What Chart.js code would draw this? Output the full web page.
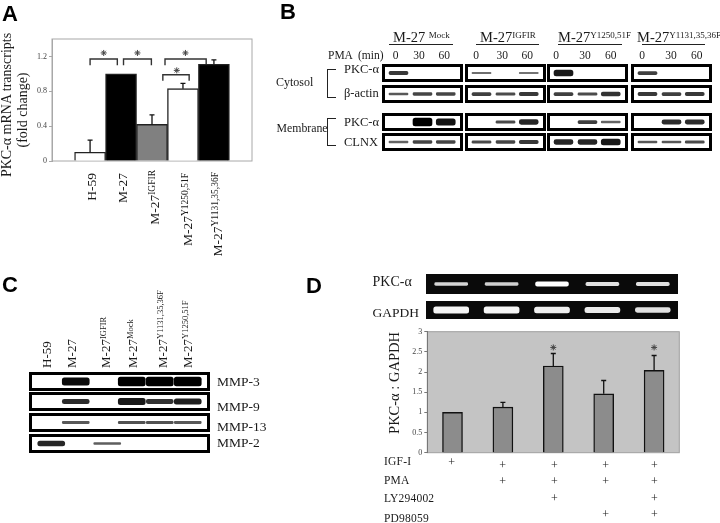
<!DOCTYPE html>
<html>
<head>
<meta charset="utf-8">
<script src="https://cdn.jsdelivr.net/npm/chart.js@4"></script>
<style>
  html, body { margin: 0; padding: 0; background: #fff; }
  #stage { position: relative; width: 720px; height: 523px; overflow: hidden; font-family: "Liberation Serif", serif; color: #1a1a1a; filter: blur(0.3px); }
  #stage canvas { position: absolute; }
  .txt { position: absolute; white-space: nowrap; line-height: 1; }
  .up { writing-mode: vertical-rl; }
  .panel { position: absolute; font: bold 22px "Liberation Sans", sans-serif; color: #000; line-height: 1; }
  .strip { position: absolute; box-sizing: border-box; border: 3px solid #000; background: #fff; }
  .strip canvas { left: 0; top: 0; filter: blur(0.5px); }
  .gel { position: absolute; background: #0a0a0a; }
  .gel canvas { left: 0; top: 0; filter: blur(0.7px); }
  .rule { position: absolute; background: #222; }
</style>
</head>
<body>
<div id="stage"></div>
<script>
// Panel A data
const aBase = ["H-59", "M-27", "M-27", "M-27", "M-27"];
const aSuper = ["", "", "IGFIR", "Y1250,51F", "Y1131,35,36F"];
const aValues = [0.10, 1.0, 0.42, 0.83, 1.11];
const aErrorTop = [0.24, null, 0.53, 0.89, 1.16];
const aTicks = [0, 0.4, 0.8, 1.2];
// [from bar, to bar, height, foot height] in axis units
const aBrackets = [
  [0.0, 0.88, 1.17, 1.10],
  [1.08, 1.98, 1.17, 1.10],
  [2.42, 3.75, 1.17, 1.10],
  [2.35, 3.20, 0.99, 0.92]
];
const aStars = [[0.44, 1.24], [1.53, 1.24], [3.08, 1.24], [2.80, 1.04]];

// Panel B data, band strength by row, then by cell line, then by lane
const bGroupsBase = ["M-27", "M-27", "M-27", "M-27"];
const bGroupsSuper = ["Mock", "IGFIR", "Y1250,51F", "Y1131,35,36F"];
const bTimes = ["0", "30", "60"];
const bRows = ["PKC-α", "β-actin", "PKC-α", "CLNX"];
const bCytosolPkc = [[0.55, 0, 0], [0.12, 0, 0.08], [0.8, 0, 0], [0.5, 0, 0]];
const bActin = [[0.3, 0.45, 0.45], [0.5, 0.4, 0.55], [0.5, 0.4, 0.6], [0.55, 0.5, 0.55]];
const bMembranePkc = [[0, 1, 0.85], [0, 0.4, 0.7], [0, 0.5, 0.2], [0, 0.65, 0.65]];
const bClnx = [[0.2, 0.45, 0.45], [0.4, 0.45, 0.55], [0.7, 0.7, 0.8], [0.3, 0.3, 0.4]];

// Panel C data
const cBase = ["H-59", "M-27", "M-27", "M-27", "M-27", "M-27"];
const cSuper = ["", "", "IGFIR", "Mock", "Y1131,35,36F", "Y1250,51F"];
const cRows = ["MMP-3", "MMP-9", "MMP-13", "MMP-2"];
const cMmp3 = [0, 0.9, 0, 1, 1, 1];
const cMmp9 = [0, 0.65, 0, 0.8, 0.6, 0.75];
const cMmp13 = [0, 0.3, 0, 0.35, 0.35, 0.3];
const cMmp2 = [0.7, 0, 0.25, 0, 0, 0];

// Panel D data
const dGelPkc = [0.6, 0.55, 1, 0.7, 0.7];
const dGelGapdh = [0.9, 0.9, 0.85, 0.8, 0.7];
const dValues = [1.0, 1.13, 2.15, 1.46, 2.04];
const dErrorTop = [null, 1.25, 2.46, 1.79, 2.41];
const dTicks = [0, 0.5, 1, 1.5, 2, 2.5, 3];
const dStars = [[2, 2.61], [4, 2.61]];
const dTreatments = ["IGF-I", "PMA", "LY294002", "PD98059"];
const dIgf = [1, 1, 1, 1, 1];
const dPma = [0, 1, 1, 1, 1];
const dLy = [0, 0, 1, 0, 1];
const dPd = [0, 0, 0, 1, 1];

// Layout and style
const stage = document.getElementById("stage");
const aColors = ["#ffffff", "#000000", "#808080", "#ffffff", "#000000"];
const bCols = [382, 465, 547, 631];
const bRowTops = [64, 85, 113, 133];
const bLaneX = [0.18, 0.5, 0.81];
const cLaneX = [0.11, 0.25, 0.43, 0.57, 0.73, 0.89];
const cRowTops = [372, 392, 413, 434];

function addDiv(cls, css) {
  const el = document.createElement("div");
  el.className = cls;
  Object.assign(el.style, css);
  stage.appendChild(el);
  return el;
}

function text(str, x, y, size, extra) {
  const el = addDiv("txt", { left: x + "px", top: y + "px", fontSize: size + "px", transform: "translateY(-50%)" });
  el.textContent = str;
  if (extra) Object.assign(el.style, extra);
  return el;
}

// base text plus a raised smaller part
function labelHtml(base, sup, supSize, rise) {
  if (!sup) return base;
  return base + '<span style="font-size:' + supSize + 'px;position:relative;' + rise + '">' + sup + "</span>";
}

function upText(html, x, y, size, anchor) {
  const shift = anchor === "top" ? "0" : anchor === "bottom" ? "-100%" : "-50%";
  const el = addDiv("txt up", {
    left: x + "px", top: y + "px", fontSize: size + "px",
    transform: "translate(-50%," + shift + ") rotate(180deg)"
  });
  el.innerHTML = html;
  return el;
}

function rule(x, y, w, h) {
  addDiv("rule", { left: x + "px", top: y + "px", width: w + "px", height: h + "px" });
}

// error whiskers, drawn from the chart's own scales
const errorBars = {
  id: "errorBars",
  afterDatasetsDraw(chart, args, opts) {
    const { ctx, scales } = chart;
    ctx.save();
    ctx.strokeStyle = "#111";
    ctx.lineWidth = 1.3;
    opts.top.forEach((hi, i) => {
      if (hi === null) return;
      const px = scales.x.getPixelForValue(i);
      const y0 = scales.y.getPixelForValue(opts.values[i]);
      const y1 = scales.y.getPixelForValue(hi);
      ctx.beginPath();
      ctx.moveTo(px, y0);
      ctx.lineTo(px, y1);
      ctx.moveTo(px - 2.5, y1);
      ctx.lineTo(px + 2.5, y1);
      ctx.stroke();
    });
    ctx.restore();
  }
};

const plotFrame = {
  id: "plotFrame",
  beforeDraw(chart, args, opts) {
    const { ctx, chartArea: a } = chart;
    ctx.save();
    if (opts.fill) {
      ctx.fillStyle = opts.fill;
      ctx.fillRect(a.left, a.top, a.width, a.height);
    }
    ctx.strokeStyle = opts.color;
    ctx.lineWidth = 1;
    ctx.strokeRect(a.left, a.top, a.width, a.height);
    ctx.restore();
  }
};

function newCanvas(parent, x, y, w, h) {
  const c = document.createElement("canvas");
  c.width = w;
  c.height = h;
  c.style.left = x + "px";
  c.style.top = y + "px";
  c.style.width = w + "px";
  c.style.height = h + "px";
  parent.appendChild(c);
  return c;
}

function yAxis(ticks, axisWidth, max, lineColor) {
  return {
    min: 0,
    max: max,
    afterBuildTicks: s => { s.ticks = ticks.map(v => ({ value: v })); },
    afterFit: s => { s.width = axisWidth; s.paddingTop = 0; s.paddingBottom = 0; },
    grid: { drawOnChartArea: false, tickLength: 3, tickColor: lineColor },
    border: { color: lineColor },
    ticks: {
      color: "#444", padding: 2,
      font: { family: "Liberation Serif", size: 8 },
      callback: v => String(v)
    }
  };
}

// Panel A chart
function drawPanelA() {
  const datasets = [{
    type: "bar",
    data: aValues.map((v, i) => ({ x: i, y: v })),
    backgroundColor: aColors,
    borderColor: "#222",
    borderWidth: 1.4,
    barThickness: 31
  }];
  aBrackets.forEach(b => {
    datasets.push({
      type: "line",
      data: [{ x: b[0], y: b[3] }, { x: b[0], y: b[2] }, { x: b[1], y: b[2] }, { x: b[1], y: b[3] }],
      borderColor: "#333",
      borderWidth: 1.4,
      pointRadius: 0,
      tension: 0
    });
  });
  datasets.push({
    type: "scatter",
    data: aStars.map(s => ({ x: s[0], y: s[1] })),
    pointStyle: "star",
    radius: 3,
    borderColor: "#444",
    borderWidth: 1
  });
  new Chart(newCanvas(stage, 20, 30, 240, 136), {
    data: { datasets },
    plugins: [plotFrame, errorBars],
    options: {
      responsive: false,
      animation: false,
      layout: { padding: { top: 9, right: 8, bottom: 3.7, left: 0 } },
      plugins: {
        legend: { display: false },
        tooltip: { enabled: false },
        plotFrame: { color: "#a8a8a8" },
        errorBars: { values: aValues, top: aErrorTop }
      },
      scales: {
        x: { type: "linear", min: -1.23, max: 5.23, display: false, offset: false },
        y: yAxis(aTicks, 32, 1.4, "#a8a8a8")
      }
    }
  });
  upText("PKC-α mRNA transcripts", 7, 105, 14);
  upText("(fold change)", 23, 110, 14);
  const xs = [92, 123, 155, 188, 218];
  const tops = [173, 173, 170, 173, 172];
  aBase.forEach((b, i) => {
    upText(labelHtml(b, aSuper[i], 9.5, "left:3px"), xs[i], tops[i], 13.5, "top");
  });
}

// A blot strip: one floating bar per band, centred on the strip
function drawBands(parent, w, h, values, laneX, thickness, opts) {
  new Chart(newCanvas(parent, 0, 0, w, h), {
    type: "bar",
    data: {
      datasets: [{
        data: values.map((v, i) => {
          if (v === 0) return { x: laneX[i], y: null };
          const half = opts.base + opts.gain * v * v;
          return { x: laneX[i], y: [-half, half] };
        }),
        backgroundColor: values.map(opts.color),
        barThickness: thickness,
        borderWidth: 0,
        borderRadius: 2.5,
        borderSkipped: false
      }]
    },
    options: {
      responsive: false,
      animation: false,
      layout: { padding: 0 },
      plugins: { legend: { display: false }, tooltip: { enabled: false } },
      scales: {
        x: { type: "linear", min: 0, max: 1, display: false, offset: false },
        y: { min: -1, max: 1, display: false }
      }
    }
  });
}

const darkBand = v => { const g = Math.round(125 * (1 - v)); return `rgb(${g},${g},${g})`; };
const lightBand = v => { const g = Math.round(150 + 105 * v); return `rgb(${g},${g},${g})`; };

function drawPanelB() {
  const rows = [bCytosolPkc, bActin, bMembranePkc, bClnx];
  const laneCentres = [[395.7, 419, 444.3], [476, 502.3, 527.3], [556, 585, 610.7], [642, 671, 696.7]];
  const heads = [393, 480, 558, 637];
  const ruleX = [388.5, 476, 558, 642];
  const ruleW = [64, 63, 64, 63];
  rows.forEach((row, r) => {
    row.forEach((vals, g) => {
      const box = addDiv("strip", { left: bCols[g] + "px", top: bRowTops[r] + "px", width: "81px", height: "18px" });
      drawBands(box, 75, 12, vals, bLaneX, 19, { base: 0.12, gain: 0.55, color: darkBand });
    });
    text(bRows[r], 344, [69, 93, 122, 142][r], 12.5);
  });
  bGroupsBase.forEach((b, g) => {
    const el = addDiv("txt", { left: heads[g] + "px", top: "37px", fontSize: "14.5px", transform: "translateY(-50%)" });
    el.innerHTML = labelHtml(b + (g === 0 ? " " : ""), bGroupsSuper[g], 9, "top:-4px");
    rule(ruleX[g], 43.5, ruleW[g], 1);
    bTimes.forEach((t, i) => {
      text(t, laneCentres[g][i], 56, 11.5, { transform: "translate(-50%,-50%)" });
    });
  });
  text("PMA  (min)", 328, 56, 11.5, { whiteSpace: "pre" });
  text("Cytosol", 276, 82, 12);
  text("Membrane", 276.5, 129, 11.8);
  // side brackets
  rule(327, 69, 1.2, 28.5);
  rule(327, 69, 9, 1.2);
  rule(327, 97, 9, 1.2);
  rule(327, 117.5, 1.2, 28);
  rule(327, 117.5, 9, 1.2);
  rule(327, 145, 9, 1.2);
}

function drawPanelC() {
  const rows = [cMmp3, cMmp9, cMmp13, cMmp2];
  const labelY = [382, 407, 427, 443];
  rows.forEach((vals, r) => {
    const box = addDiv("strip", { left: "29px", top: cRowTops[r] + "px", width: "181px", height: "19px" });
    drawBands(box, 175, 13, vals, cLaneX, 27, { base: 0.12, gain: 0.55, color: darkBand });
    text(cRows[r], 217, labelY[r], 13.5);
  });
  const xs = [46, 71, 105, 132, 162, 187];
  cBase.forEach((b, i) => {
    upText(labelHtml(b, cSuper[i], 8.5, "left:3px"), xs[i], 368, 13, "bottom");
  });
}

function drawPanelD() {
  const gelLanes = [0.1, 0.3, 0.5, 0.7, 0.9];
  const gel1 = addDiv("gel", { left: "426px", top: "274px", width: "252px", height: "20px" });
  drawBands(gel1, 252, 20, dGelPkc, gelLanes, 33, { base: 0.1, gain: 0.12, color: lightBand });
  const gel2 = addDiv("gel", { left: "426px", top: "301px", width: "252px", height: "18px" });
  drawBands(gel2, 252, 18, dGelGapdh, gelLanes, 35, { base: 0.15, gain: 0.25, color: lightBand });
  text("PKC-α", 372.5, 281.5, 14);
  text("GAPDH", 372.5, 313, 13.5);

  new Chart(newCanvas(stage, 395, 326, 290, 132), {
    data: {
      labels: dValues.map((v, i) => i),
      datasets: [{
        type: "bar",
        data: dValues.map((v, i) => ({ x: i, y: v })),
        backgroundColor: "#8c8c8c",
        borderColor: "#111",
        borderWidth: 1.4,
        barThickness: 20
      }, {
        type: "scatter",
        data: dStars.map(s => ({ x: s[0], y: s[1] })),
        pointStyle: "star",
        radius: 3,
        borderColor: "#444",
        borderWidth: 1
      }]
    },
    plugins: [plotFrame, errorBars],
    options: {
      responsive: false,
      animation: false,
      layout: { padding: { top: 5.7, right: 5.7, bottom: 5.3, left: 0 } },
      plugins: {
        legend: { display: false },
        tooltip: { enabled: false },
        plotFrame: { color: "#a0a0a0", fill: "#c4c4c4" },
        errorBars: { values: dValues, top: dErrorTop }
      },
      scales: {
        x: { type: "linear", min: -0.5, max: 4.5, display: false, offset: false },
        y: yAxis(dTicks, 32.3, 3, "#777")
      }
    }
  });
  upText("PKC-α : GAPDH", 394, 382.5, 14.5);

  const marks = [dIgf, dPma, dLy, dPd];
  const rowY = [462, 481, 499, 519];
  const markY = [464.7, 481, 497.7, 514.3];
  const markX = [451.7, 502.7, 554.3, 605.7, 654.3];
  marks.forEach((row, r) => {
    text(dTreatments[r], 384, rowY[r], 11.5, { letterSpacing: "0.2px" });
    row.forEach((m, i) => {
      if (!m) return;
      const y = r === 0 && i === 0 ? 461.7 : markY[r];
      text("+", markX[i], y, 12, { transform: "translate(-50%,-50%)" });
    });
  });
}

[["A", 2, 3], ["B", 280, 1], ["C", 2, 274], ["D", 306, 275]].forEach(p => {
  const el = addDiv("panel", { left: p[1] + "px", top: p[2] + "px" });
  el.textContent = p[0];
});

drawPanelA();
drawPanelB();
drawPanelC();
drawPanelD();
</script>
</body>
</html>
